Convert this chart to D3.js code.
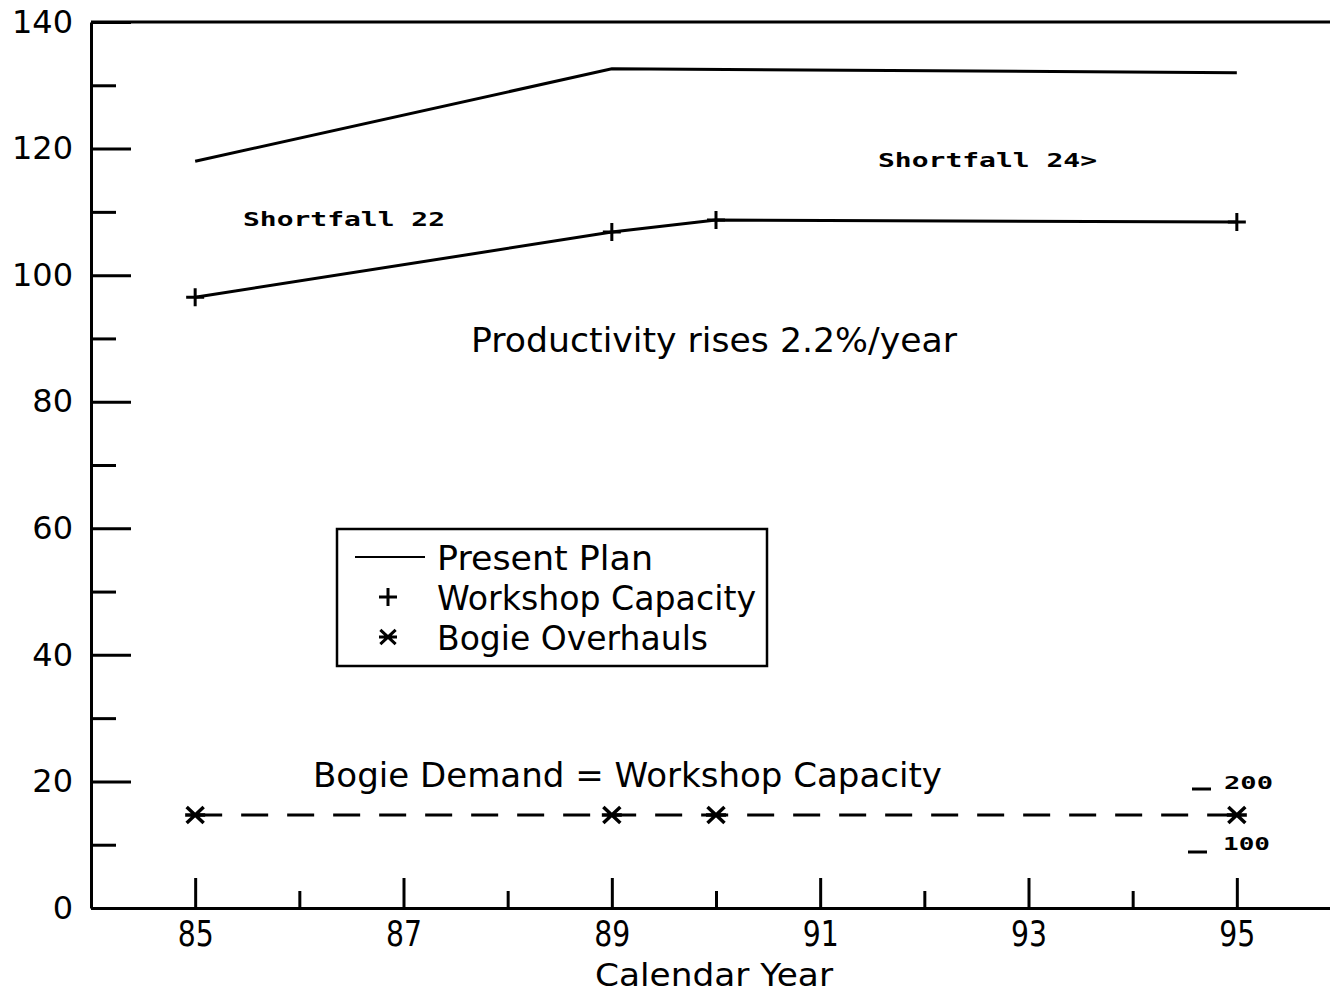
<!DOCTYPE html>
<html>
<head>
<meta charset="utf-8">
<script src="https://cdn.jsdelivr.net/npm/d3@7"></script>
<style>
  body { margin: 0; background: #fff; }
  svg { display: block; }
  text { font-family: "DejaVu Sans", sans-serif; fill: #000; }
</style>
</head>
<body>
<svg id="chart" width="1330" height="994"></svg>
<script>
// years on the x axis
var planYears = [85, 89, 95];
var planValues = [118, 132.6, 132];

var capacityYears = [85, 89, 90, 95];
var capacityValues = [96.5, 106.8, 108.7, 108.4];

var bogieYears = [85, 89, 90, 95];
var bogieValues = [14.7, 14.7, 14.7, 14.7];

var yMajor = [0, 20, 40, 60, 80, 100, 120, 140];
var yMinor = [10, 30, 50, 70, 90, 110, 130];
var xMajor = [85, 87, 89, 91, 93, 95];
var xMinor = [86, 88, 90, 92, 94];

var legendLabels = ["Present Plan", "Workshop Capacity", "Bogie Overhauls"];

var svg = d3.select("#chart");

var x = d3.scaleLinear().domain([84, 96]).range([91, 1341]);
var y = d3.scaleLinear().domain([0, 140]).range([908, 22]);

function plusPath(s) {
  return "M" + (-s) + ",0H" + s + "M0," + (-s) + "V" + s;
}
function starPath(s) {
  var a = s * 0.85, b = s * 0.8;
  return "M" + (-s) + ",0H" + s +
    "M" + (-a) + "," + (-b) + "L" + a + "," + b +
    "M" + (-a) + "," + b + "L" + a + "," + (-b);
}

// frame top line
svg.append("line")
  .attr("x1", x(84)).attr("x2", x(96))
  .attr("y1", y(140)).attr("y2", y(140))
  .attr("stroke", "#000").attr("stroke-width", 3);

// y axis
var yAxis = svg.append("g")
  .attr("transform", "translate(" + x(84) + ",0)")
  .call(d3.axisLeft(y).tickValues(yMajor).tickSizeInner(-40).tickSizeOuter(0).tickPadding(18));
yAxis.selectAll("text").style("font-size", "32px").style("font-family", "DejaVu Sans");

svg.append("g")
  .attr("transform", "translate(" + x(84) + ",0)")
  .call(d3.axisLeft(y).tickValues(yMinor).tickSizeInner(-25).tickSizeOuter(0).tickFormat(""))
  .select(".domain").remove();

// x axis
var xAxis = svg.append("g")
  .attr("transform", "translate(0," + y(0) + ")")
  .call(d3.axisBottom(x).tickValues(xMajor).tickSizeInner(-30).tickSizeOuter(0).tickPadding(12));
xAxis.selectAll("text")
  .style("font-size", "36px").style("font-family", "DejaVu Sans")
  .attr("textLength", 36).attr("lengthAdjust", "spacingAndGlyphs");

svg.append("g")
  .attr("transform", "translate(0," + y(0) + ")")
  .call(d3.axisBottom(x).tickValues(xMinor).tickSizeInner(-17).tickSizeOuter(0).tickFormat(""))
  .select(".domain").remove();

svg.selectAll(".domain").attr("stroke-width", 3);
svg.selectAll(".tick line").attr("stroke-width", 3);

var line = d3.line()
  .x(function(d) { return x(d[0]); })
  .y(function(d) { return y(d[1]); });

var plan = d3.zip(planYears, planValues);
var capacity = d3.zip(capacityYears, capacityValues);
var bogie = d3.zip(bogieYears, bogieValues);

svg.append("path").datum(plan)
  .attr("d", line).attr("fill", "none").attr("stroke", "#000").attr("stroke-width", 3);

svg.append("path").datum(capacity)
  .attr("d", line).attr("fill", "none").attr("stroke", "#000").attr("stroke-width", 3);

svg.selectAll(".cap").data(capacity).enter().append("path")
  .attr("class", "cap")
  .attr("transform", function(d) { return "translate(" + x(d[0]) + "," + y(d[1]) + ")"; })
  .attr("d", plusPath(9)).attr("stroke", "#000").attr("stroke-width", 3);

svg.append("path").datum(bogie)
  .attr("d", line).attr("fill", "none").attr("stroke", "#000").attr("stroke-width", 3)
  .attr("stroke-dasharray", "27,19");

svg.selectAll(".bog").data(bogie).enter().append("path")
  .attr("class", "bog")
  .attr("transform", function(d) { return "translate(" + x(d[0]) + "," + y(d[1]) + ")"; })
  .attr("d", starPath(10)).attr("stroke", "#000").attr("stroke-width", 3.5);

// annotations
function label(txt, px, py, size, len, opts) {
  var t = svg.append("text").attr("x", px).attr("y", py).text(txt)
    .style("font-size", size + "px")
    .attr("textLength", len).attr("lengthAdjust", "spacingAndGlyphs");
  if (opts && opts.mono) t.style("font-family", "DejaVu Sans Mono").style("font-weight", "bold");
  return t;
}

label("Productivity rises 2.2%/year", 471, 352, 34, 486);
label("Bogie Demand = Workshop Capacity", 313, 787, 34, 629);
label("Calendar Year", 595, 986, 32, 238);
label("Shortfall 22", 243, 226, 19, 202, { mono: true });
label("Shortfall 24>", 878, 167, 19, 219, { mono: true });
label("200", 1224, 789, 17, 49, { mono: true });
label("100", 1223, 850, 17, 47, { mono: true });

svg.append("line").attr("x1", 1192).attr("x2", 1211).attr("y1", 789).attr("y2", 789)
  .attr("stroke", "#000").attr("stroke-width", 3);
svg.append("line").attr("x1", 1188).attr("x2", 1207).attr("y1", 852).attr("y2", 852)
  .attr("stroke", "#000").attr("stroke-width", 3);

// legend
var legend = svg.append("g").attr("transform", "translate(337,529)");
legend.append("rect").attr("width", 430).attr("height", 137)
  .attr("fill", "none").attr("stroke", "#000").attr("stroke-width", 2.5);
legend.append("line").attr("x1", 18).attr("x2", 88).attr("y1", 28).attr("y2", 28)
  .attr("stroke", "#000").attr("stroke-width", 2);
legend.append("path").attr("transform", "translate(51,68)")
  .attr("d", plusPath(9)).attr("stroke", "#000").attr("stroke-width", 3);
legend.append("path").attr("transform", "translate(51,108)")
  .attr("d", starPath(9)).attr("stroke", "#000").attr("stroke-width", 3);
var legendLens = [216, 319, 271];
legend.selectAll(".lt").data(legendLabels).enter().append("text")
  .attr("class", "lt")
  .attr("x", 100)
  .attr("y", function(d, i) { return 41 + i * 40; })
  .style("font-size", "33px")
  .attr("textLength", function(d, i) { return legendLens[i]; })
  .attr("lengthAdjust", "spacingAndGlyphs")
  .text(function(d) { return d; });
</script>
</body>
</html>
